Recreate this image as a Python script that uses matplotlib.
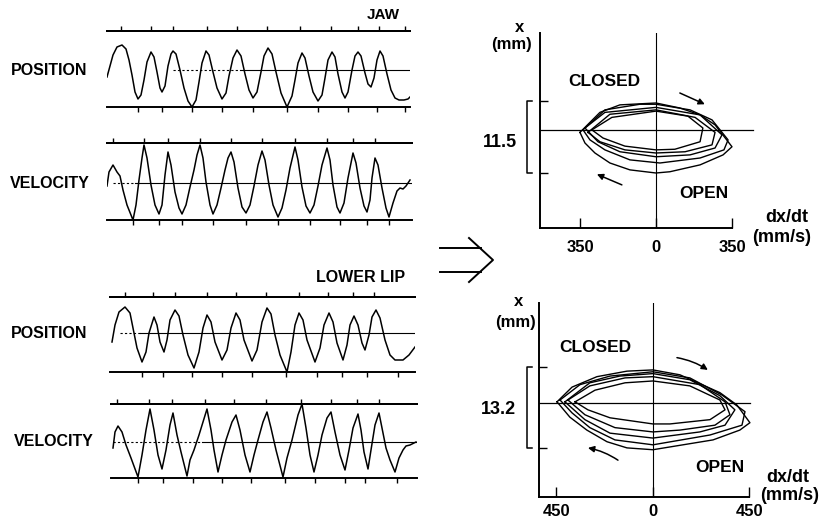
import matplotlib.pyplot as plt

plt.rcParams['font.family'] = ['Liberation Sans', 'DejaVu Sans']
plt.rcParams['font.weight'] = 'bold'

# time axis in chart units (left edge of trace = 0)
jaw_pos_t = [0, 3, 6, 10, 15, 19, 22, 25, 28, 31, 34, 37, 40, 44, 47, 50, 53, 55, 58, 61, 64, 66,
             69, 73, 77, 81, 85, 89, 92, 95, 99, 102, 106, 110, 115, 119, 122, 126, 130, 134, 138,
             142, 146, 150, 154, 157, 161, 165, 169, 174, 180, 185, 188, 191, 195, 198, 202, 206,
             211, 215, 218, 221, 225, 228, 231, 235, 238, 241, 245, 248, 251, 254, 258, 261, 264,
             267, 270, 273, 276, 280, 284, 288, 292, 297, 301, 303]
jaw_pos_v = [-7, 4, 15, 23, 25, 21, 10, -5, -22, -29, -25, -10, 8, 18, 13, -2, -18, -22, -16, 4, 16, 19,
             16, 0, -18, -31, -37, -30, -12, 7, 19, 15, -2, -18, -29, -23, -6, 12, 20, 14, -4,
             -20, -28, -22, -2, 14, 22, 16, -2, -23, -37, -26, -10, 7, 17, 12, -6, -22,
             -31, -25, -8, 10, 18, 13, -4, -22, -28, -22, 0, 14, 18, 14, -3, -14, -17,
             -8, 10, 19, 14, -4, -20, -28, -30, -30, -29, -27]
jaw_pos_top = [14, 44, 66, 100, 130, 160, 193, 224, 251, 272, 298]
jaw_pos_bot = [31, 55, 85, 115, 146, 180, 211, 241, 270, 298]

jaw_vel_t = [0, 2, 6, 10, 13, 16, 20, 26, 29, 32, 35, 37, 40, 44, 48, 52, 55, 58, 61, 64, 68, 72, 75,
             79, 83, 87, 90, 93, 96, 99, 103, 106, 110, 114, 118, 121, 124, 127, 131, 135, 139,
             143, 147, 151, 155, 158, 162, 166, 171, 175, 179, 183, 188, 191, 195, 199, 203, 207,
             211, 215, 220, 223, 226, 230, 233, 237, 241, 246, 249, 253, 257, 260, 263, 265, 268,
             271, 275, 279, 282, 286, 290, 293, 296, 299, 303]
jaw_vel_v = [-3, 11, 18, 11, 7, -7, -22, -37, -22, 3, 25, 38, 25, -2, -22, -31, -22, 8, 31, 18, -9, -25, -31,
             -22, -4, 13, 28, 38, 25, 1, -22, -31, -22, -5, 13, 25, 31, 21, -5, -24, -30,
             -22, -3, 18, 32, 23, -2, -22, -34, -25, -7, 15, 36, 23, -4, -23, -30, -22,
             -3, 18, 35, 23, -2, -24, -30, -20, 5, 30, 20, -5, -23, -29, -17, 5, 25,
             18, -5, -25, -34, -20, -8, -5, -6, -3, 3]
jaw_vel_top = [6, 37, 61, 93, 124, 155, 188, 220, 246, 268]
jaw_vel_bot = [26, 52, 75, 106, 139, 171, 203, 233, 260, 282]

lip_pos_t = [5, 8, 12, 18, 23, 26, 30, 35, 39, 42, 47, 50, 53, 57, 60, 63, 68, 72, 76, 81, 87, 92, 96,
             100, 104, 108, 115, 120, 124, 129, 133, 137, 145, 150, 155, 160, 164, 168, 173, 180,
             184, 188, 192, 196, 200, 208, 213, 217, 222, 226, 230, 236, 240, 243, 247, 251, 255,
             258, 262, 265, 269, 273, 278, 283, 288, 296, 302, 308]
lip_pos_v = [-9, 8, 21, 26, 20, 5, -15, -29, -19, 0, 16, 8, -9, -19, -7, 13, 23, 17, -2, -22, -35, -19, 5,
             18, 11, -9, -27, -17, 5, 20, 13, -7, -28, -17, 11, 25, 19, -2, -22, -39,
             -19, 8, 20, 13, -7, -29, -15, 8, 20, 11, -10, -27, -12, 8, 17, 8, -10,
             -17, -2, 16, 23, 15, -7, -22, -27, -27, -22, -14]
lip_pos_top = [18, 46, 68, 100, 129, 159, 192, 221, 246, 267]
lip_pos_bot = [35, 56, 85, 115, 145, 179, 210, 235, 260, 291]

lip_vel_t = [6, 8, 11, 15, 19, 24, 31, 35, 39, 43, 47, 51, 55, 59, 63, 66, 70, 74, 80, 83, 87, 92, 100,
             104, 107, 111, 115, 119, 125, 129, 133, 138, 143, 147, 151, 156, 160, 164, 169, 176,
             180, 185, 191, 195, 199, 203, 207, 211, 215, 220, 224, 228, 233, 238, 242, 246, 251,
             254, 257, 261, 264, 268, 272, 275, 279, 283, 288, 292, 296, 299, 303, 309]
lip_vel_v = [-6, 10, 16, 10, -3, -16, -35, -13, 12, 33, 12, -13, -27, -8, 17, 29, 7, -10, -34, -18, -8, 7, 33,
             12, -8, -30, -13, 2, 20, 27, 12, -13, -30, -13, 2, 20, 30, 14, -8, -35,
             -16, 2, 27, 38, 14, -13, -30, -13, 7, 24, 30, 10, -13, -28, -8, 14, 28,
             12, -10, -27, -8, 17, 29, 14, -6, -18, -30, -16, -8, -4, -3, 0]
lip_vel_top = [10, 42, 65, 98, 127, 159, 194, 224, 250, 272]
lip_vel_bot = [31, 56, 86, 115, 144, 178, 208, 238, 258, 290]

# phase portraits: velocity (mm/s) and position (mm), one list per cycle
jaw_loops_vel = [
    [-350, -258, -166, 0, 110, 203, 272, 350, 309, 203, 64, 0, -120, -212, -281, -327, -350],
    [-336, -235, -74, 0, 157, 258, 332, 313, 203, 18, -120, -235, -304, -336],
    [-327, -235, 0, 203, 304, 272, 157, 0, -166, -267, -327],
    [-313, -212, 0, 180, 272, 258, 134, 0, -143, -258, -313],
    [-295, -203, 0, 147, 216, 203, 87, 0, -143, -244, -295],
]
jaw_loops_pos = [
    [6.5, 9.7, 10.9, 11.2, 10.4, 9.3, 7.7, 4.2, 2.9, 1.3, 0.2, 0.0, 0.5, 1.6, 3.2, 4.8, 6.5],
    [6.9, 10.1, 11.0, 11.0, 10.1, 8.5, 5.3, 3.7, 2.4, 1.6, 2.1, 3.7, 5.3, 6.9],
    [7.2, 9.7, 10.5, 9.3, 6.1, 4.0, 2.9, 2.6, 3.4, 5.0, 7.2],
    [6.5, 9.4, 10.1, 8.9, 6.5, 4.5, 3.4, 3.2, 3.7, 5.0, 6.5],
    [6.9, 8.9, 9.9, 9.1, 7.2, 5.0, 3.8, 3.7, 4.3, 5.6, 6.9],
]
lip_loops_vel = [
    [-447, -377, -261, -121, 0, 126, 312, 391, 452, 405, 280, 0, -121, -214, -308, -387, -447],
    [-433, -340, -200, 0, 172, 322, 429, 415, 266, 0, -177, -294, -377, -433],
    [-410, -294, -154, 0, 172, 312, 382, 336, 219, 0, -200, -317, -410],
    [-396, -294, -130, 0, 219, 336, 359, 289, 126, 0, -177, -317, -396],
    [-363, -270, -130, 0, 172, 312, 336, 266, 79, 0, -200, -303, -363],
]
lip_loops_pos = [
    [7.5, 9.9, 11.6, 12.5, 12.7, 11.9, 9.0, 7.0, 4.1, 2.9, 1.3, -0.3, 0.0, 1.0, 2.9, 5.0, 7.5],
    [7.8, 10.3, 11.7, 12.4, 11.4, 8.6, 5.9, 3.7, 2.1, 0.5, 1.3, 3.3, 5.7, 7.8],
    [7.5, 10.6, 11.7, 12.1, 11.1, 8.5, 6.2, 3.7, 2.6, 1.6, 2.4, 4.6, 7.5],
    [7.8, 10.1, 11.4, 11.6, 10.3, 7.5, 5.4, 3.7, 2.9, 2.6, 3.3, 5.4, 7.8],
    [7.5, 9.4, 10.6, 10.9, 10.1, 7.8, 6.2, 4.6, 3.9, 3.9, 4.9, 6.2, 7.5],
]

W, H = 821, 524
fig = plt.figure(figsize=(W / 100, H / 100), dpi=100)


def frac(x0, y0, x1, y1):
    # pixel box -> figure fraction rect
    return [x0 / W, 1 - y1 / H, (x1 - x0) / W, (y1 - y0) / H]


def trace(rect, t, v, top, bot, xlim, ylim, dash_from, solid_from):
    ax = fig.add_axes(rect)
    ax.plot(t, v, color='k', lw=1.1)
    ax.plot([dash_from, solid_from], [0, 0], color='k', lw=0.8, ls=(0, (2, 2)))
    ax.plot([solid_from, xlim[1]], [0, 0], color='k', lw=0.8)
    ax.set_xlim(xlim)
    ax.set_ylim(ylim)
    for s in ['left', 'right']:
        ax.spines[s].set_visible(False)
    for s in ['top', 'bottom']:
        ax.spines[s].set_linewidth(1.4)
    ax.set_yticks([])
    ax.set_xticks(bot)
    ax.tick_params(axis='x', direction='out', length=3.5, width=1, labelbottom=False, top=False)
    sec = ax.secondary_xaxis('top')
    sec.set_xticks(top)
    sec.tick_params(direction='out', length=3.5, width=1, labeltop=False)
    sec.spines['top'].set_linewidth(1.4)
    return ax


trace(frac(107, 31, 410, 107), jaw_pos_t, jaw_pos_v, jaw_pos_top, jaw_pos_bot, (0, 303), (-37, 39), 66, 133)
trace(frac(107, 143, 412, 220), jaw_vel_t, jaw_vel_v, jaw_vel_top, jaw_vel_bot, (0, 305), (-37, 40), 6, 28)
trace(frac(110, 297, 415, 372), lip_pos_t, lip_pos_v, lip_pos_top, lip_pos_bot, (3, 308), (-39, 36), 13, 33)
trace(frac(111, 404, 417, 478), lip_vel_t, lip_vel_v, lip_vel_top, lip_vel_bot, (4, 310), (-36, 38), 6, 95)


def phase(rect, loops_v, loops_p, xlim, ylim, tick, mid, span, hline_end, bracket_x, arrows, pad):
    ax = fig.add_axes(rect)
    for lv, lp in zip(loops_v, loops_p):
        ax.plot(lv, lp, color='k', lw=1.0)
    ax.axvline(0, color='k', lw=0.8)
    ax.plot([xlim[0], hline_end], [mid, mid], color='k', lw=0.9)
    ax.set_xlim(xlim)
    ax.set_ylim(ylim)
    for s in ['top', 'right']:
        ax.spines[s].set_visible(False)
    ax.spines['left'].set_linewidth(1.4)
    ax.spines['bottom'].set_linewidth(1.4)
    ax.spines['bottom'].set_bounds(xlim[0], tick)
    ax.set_xticks([-tick, 0, tick], [str(tick), '0', str(tick)])
    ax.tick_params(axis='x', direction='in', length=7, width=1, pad=pad, labelsize=12)
    ax.set_yticks([0, span], ['', ''])
    ax.tick_params(axis='y', direction='in', length=6, width=1)
    ser = 25
    ax.plot([bracket_x + ser, bracket_x, bracket_x, bracket_x + ser], [span, span, 0, 0],
            color='k', lw=1.1, clip_on=False)
    for (x0, y0), (x1, y1), rad in arrows:
        ax.annotate('', xy=(x1, y1), xytext=(x0, y0),
                    arrowprops=dict(arrowstyle='-|>', color='k', lw=1.1, mutation_scale=9,
                                    shrinkA=0, shrinkB=0, connectionstyle=f'arc3,rad={rad}'))
    return ax


phase(frac(540, 33, 760, 228), jaw_loops_vel, jaw_loops_pos, (-534, 479), (-8.8, 22.4),
      350, 6.9, 11.5, 447, -594,
      [((110, 12.8), (225, 11.0), 0), ((-157, -1.9), (-272, -0.2), 0)], 9)
phase(frac(539, 303, 760, 497), lip_loops_vel, lip_loops_pos, (-531, 499), (-8.0, 23.6),
      450, 7.3, 13.2, 452, -587,
      [((112, 14.7), (256, 12.7), -0.1), ((-163, -2.0), (-303, 0.0), 0.1)], 5)


def label(x, y, s, ha='center', size=11):
    fig.text(x / W, 1 - y / H, s, ha=ha, va='center', fontsize=size, fontweight='bold')


label(400, 15, 'JAW', ha='right')
label(11, 70, 'POSITION', ha='left', size=11.5)
label(10, 183, 'VELOCITY', ha='left', size=11.5)
label(405, 278, 'LOWER LIP', ha='right', size=11.5)
label(11, 334, 'POSITION', ha='left', size=11.5)
label(14, 442, 'VELOCITY', ha='left', size=11.5)

label(520, 27, 'x', size=12)
label(512, 45, '(mm)', size=12)
label(604, 82, 'CLOSED', size=12.5)
label(704, 193, 'OPEN', size=12.5)
label(500, 142, '11.5', size=13)
label(787, 218, 'dx/dt', size=13)
label(782, 237, '(mm/s)', size=13)

label(519, 302, 'x', size=12)
label(515, 323, '(mm)', size=12)
label(595, 348, 'CLOSED', size=12.5)
label(720, 468, 'OPEN', size=12.5)
label(498, 409, '13.2', size=13)
label(788, 478, 'dx/dt', size=13)
label(790, 496, '(mm/s)', size=13)

# the "implies" arrow between the two halves
fig.add_artist(plt.Line2D([440 / W, 481 / W], [1 - 248 / H, 1 - 248 / H], color='k', lw=1.4))
fig.add_artist(plt.Line2D([440 / W, 481 / W], [1 - 272 / H, 1 - 272 / H], color='k', lw=1.4))
fig.add_artist(plt.Line2D([469 / W, 493 / W, 469 / W], [1 - 238 / H, 1 - 260 / H, 1 - 282 / H],
                          color='k', lw=1.4))

fig.savefig('out.png', dpi=100)
